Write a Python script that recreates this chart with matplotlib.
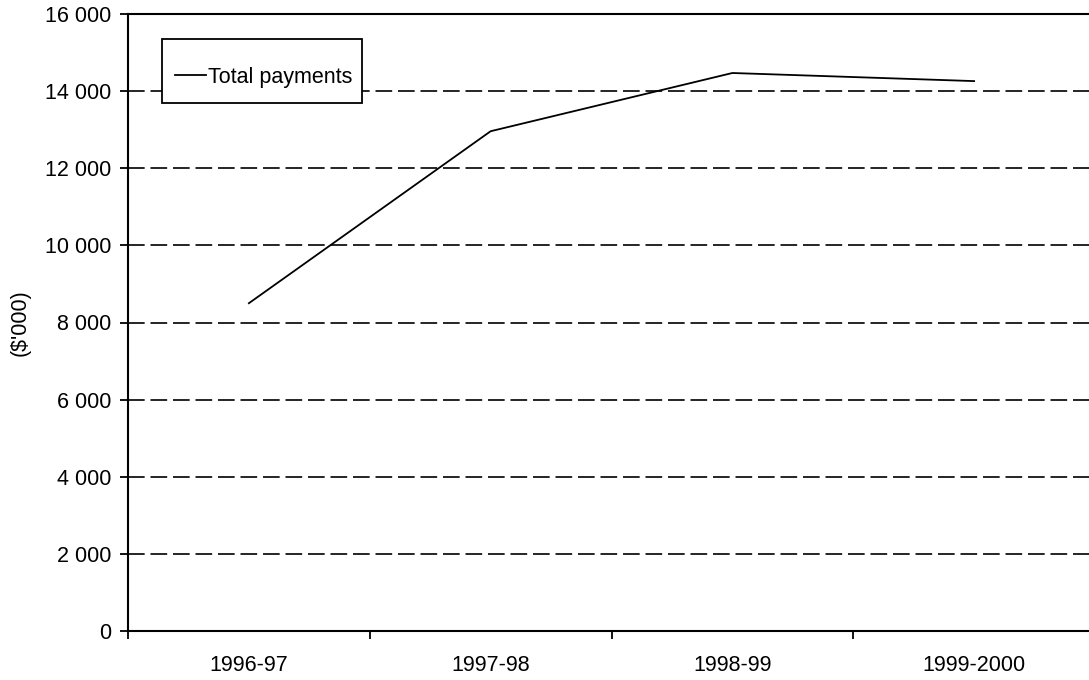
import matplotlib
matplotlib.use('Agg')
import matplotlib.pyplot as plt
from matplotlib.patches import Rectangle
from matplotlib.ticker import FuncFormatter

years = ['1996-97', '1997-98', '1998-99', '1999-2000']
total_payments = [8500, 12960, 14470, 14260]

plt.rcParams['font.family'] = ['Liberation Sans', 'DejaVu Sans']
plt.rcParams['font.size'] = 15.5

fig = plt.figure(figsize=(10.89, 6.8), dpi=100)
ax = fig.add_axes([128 / 1089, 1 - 631 / 680, (1095 - 128) / 1089, (631 - 14) / 680])

x = range(len(years))
ax.plot(x, total_payments, color='black', lw=1.3, label='Total payments')

ax.set_xlim(-0.5, len(years) - 0.5)
ax.set_ylim(0, 16000)
ax.set_yticks(range(0, 16001, 2000))
ax.yaxis.set_major_formatter(FuncFormatter(lambda v, p: f'{int(v):,}'.replace(',', ' ')))

# category labels in the middle, ticks on the boundaries
ax.set_xticks([i - 0.5 for i in range(len(years) + 1)])
ax.set_xticklabels([])
ax.set_xticks(list(x), minor=True)
ax.set_xticklabels(years, minor=True)
ax.tick_params(axis='x', which='minor', length=0, pad=17)
ax.tick_params(axis='x', which='major', direction='out', length=6, width=1.3)
ax.tick_params(axis='y', direction='out', length=6, width=1.3, pad=6)

for v in range(2000, 16000, 2000):
    ax.axhline(v, color='black', lw=1.2, ls=(0, (10, 3.5)), zorder=0)

ax.spines['right'].set_visible(False)
for side in ['left', 'bottom', 'top']:
    ax.spines[side].set_linewidth(1.5)

ax.set_ylabel("($'000)", labelpad=10)

# legend box drawn separately so it can be taller than the text
box_x0, box_y0, box_w, box_h = 34 / 967, 528 / 617, 200 / 967, 64 / 617
ax.add_patch(Rectangle((box_x0, box_y0), box_w, box_h, transform=ax.transAxes,
                       facecolor='white', edgecolor='black', lw=1.3, zorder=4))
leg = ax.legend(loc='center left',
                bbox_to_anchor=(box_x0 + 8 / 967, box_y0 + box_h / 2 - 6 / 617),
                frameon=False, handlelength=1.4, handletextpad=0.1,
                borderpad=0.25, borderaxespad=0)
leg.set_zorder(5)

fig.savefig('out.png', dpi=100)
